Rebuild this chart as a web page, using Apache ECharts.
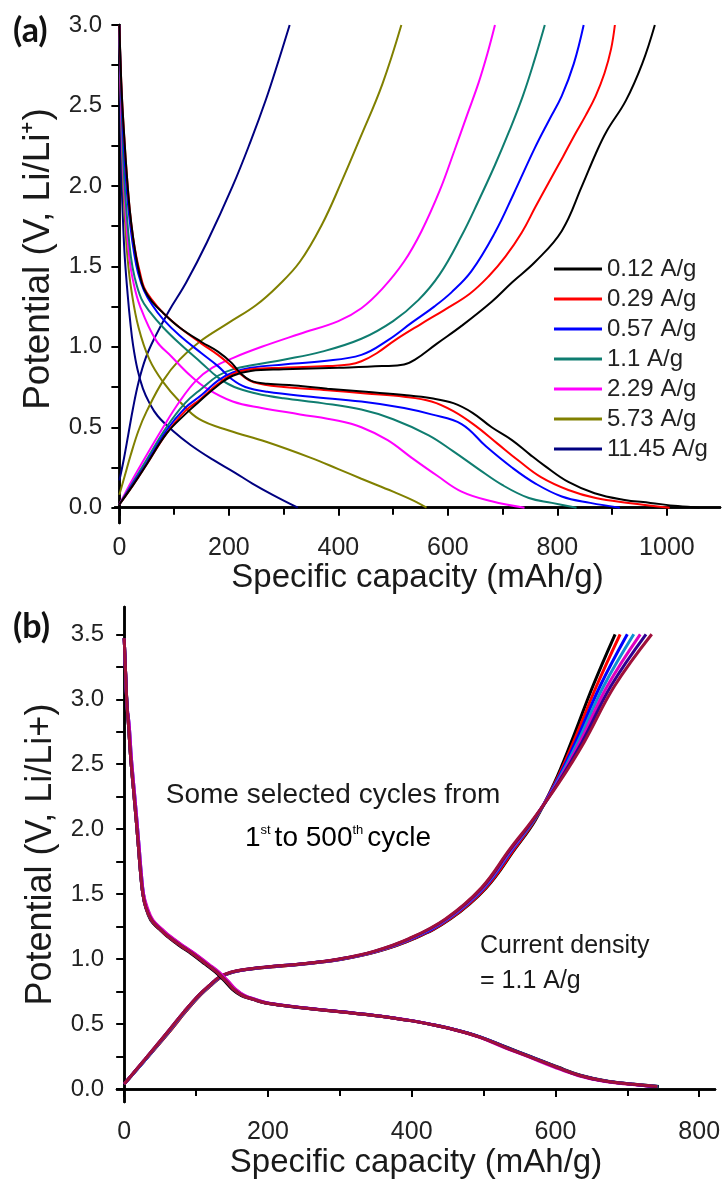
<!DOCTYPE html>
<html>
<head>
<meta charset="utf-8">
<script src="https://cdn.jsdelivr.net/npm/echarts@6/dist/echarts.min.js"></script>
<style>html,body{margin:0;padding:0;background:#fff;}#c{width:725px;height:1180px;}</style>
</head>
<body>
<div id="c"></div>
<script>
// ---------- Panel (a): rate capability, [capacity mAh/g, potential V] ----------
const rateNames = ['0.12 A/g','0.29 A/g','0.57 A/g','1.1 A/g','2.29 A/g','5.73 A/g','11.45 A/g'];
const rateColors = ['#000000','#ff0000','#0000ff','#0f7d70','#ff00ff','#808000','#000080'];

const dis012 = [[0,3.0],[4,2.6],[9,2.3],[14,2.05],[19,1.85],[25,1.68],[31,1.55],[37,1.45],[45,1.36],[60,1.28],[80,1.21],[110,1.12],[150,1.03],[180,0.97],[205,0.9],[220,0.84],[240,0.79],[270,0.77],[320,0.76],[380,0.74],[450,0.72],[520,0.7],[570,0.68],[610,0.65],[645,0.59],[680,0.5],[717,0.42],[750,0.33],[777,0.26],[820,0.16],[868,0.09],[920,0.05],[970,0.03],[1020,0.01],[1060,0.0]];
const dis029 = [[0,3.0],[4,2.6],[9,2.3],[14,2.05],[19,1.85],[25,1.68],[31,1.56],[37,1.47],[45,1.37],[60,1.29],[80,1.21],[110,1.12],[150,1.02],[180,0.95],[205,0.88],[225,0.82],[245,0.78],[300,0.75],[380,0.73],[450,0.71],[520,0.69],[570,0.66],[610,0.6],[650,0.51],[690,0.4],[730,0.29],[770,0.19],[820,0.11],[870,0.06],[930,0.03],[1005,0.0]];
const dis057 = [[0,3.0],[4,2.55],[9,2.2],[14,1.95],[20,1.75],[27,1.58],[34,1.46],[45,1.35],[60,1.26],[80,1.17],[110,1.07],[150,0.96],[180,0.88],[205,0.8],[230,0.75],[270,0.72],[350,0.69],[442,0.66],[520,0.62],[570,0.58],[625,0.52],[670,0.38],[717,0.25],[760,0.15],[808,0.07],[860,0.03],[914,0.0]];
const dis11 = [[0,3.0],[4,2.5],[8,2.1],[14,1.8],[21,1.56],[28,1.43],[40,1.3],[55,1.22],[80,1.12],[110,1.02],[150,0.9],[180,0.81],[210,0.75],[250,0.71],[300,0.68],[370,0.65],[442,0.61],[500,0.55],[565,0.45],[610,0.35],[656,0.24],[700,0.14],[748,0.06],[790,0.03],[835,0.0]];
const dis229 = [[0,3.0],[3,2.5],[7,2.1],[12,1.8],[18,1.56],[25,1.41],[38,1.25],[67,1.04],[95,0.94],[130,0.82],[160,0.74],[207,0.66],[260,0.62],[330,0.58],[400,0.54],[442,0.5],[490,0.42],[534,0.31],[580,0.2],[625,0.1],[680,0.04],[740,0.0]];
const dis573 = [[0,3.0],[3,2.5],[6,2.1],[10,1.8],[15,1.55],[22,1.35],[35,1.12],[55,0.92],[80,0.78],[110,0.66],[146,0.55],[200,0.48],[268,0.41],[350,0.31],[400,0.24],[442,0.18],[500,0.1],[540,0.04],[561,0.0]];
const dis1145 = [[0,3.0],[2,2.5],[4,2.05],[7,1.75],[10,1.55],[15,1.33],[20,1.15],[25,1.01],[33,0.86],[43,0.74],[55,0.65],[70,0.57],[97,0.48],[130,0.39],[170,0.3],[210,0.22],[243,0.15],[280,0.08],[326,0.0]];

const chg012 = [[0,0.02],[25,0.14],[50,0.27],[86,0.46],[120,0.58],[146,0.66],[180,0.76],[207,0.82],[240,0.85],[300,0.86],[400,0.87],[480,0.88],[520,0.89],[540,0.92],[580,1.02],[625,1.13],[680,1.28],[717,1.4],[760,1.53],[808,1.72],[845,2.0],[870,2.2],[890,2.34],[925,2.53],[955,2.76],[978,3.0]];
const chg029 = [[0,0.02],[25,0.14],[50,0.27],[86,0.46],[120,0.6],[146,0.67],[180,0.77],[207,0.83],[240,0.86],[300,0.87],[380,0.88],[420,0.89],[442,0.91],[470,0.96],[503,1.04],[550,1.14],[594,1.23],[640,1.33],[675,1.44],[705,1.56],[735,1.71],[760,1.87],[784,2.02],[810,2.18],[832,2.32],[852,2.44],[870,2.56],[886,2.7],[898,2.85],[905,3.0]];
const chg057 = [[0,0.02],[25,0.15],[50,0.28],[86,0.48],[120,0.62],[150,0.7],[180,0.79],[207,0.84],[240,0.87],[300,0.89],[370,0.91],[442,0.95],[490,1.04],[534,1.15],[575,1.25],[607,1.34],[643,1.47],[686,1.71],[720,1.95],[758,2.23],[785,2.41],[808,2.56],[830,2.76],[848,3.0]];
const chg11 = [[0,0.02],[25,0.16],[50,0.3],[86,0.5],[120,0.65],[150,0.74],[180,0.82],[207,0.86],[250,0.89],[300,0.92],[370,0.97],[442,1.05],[500,1.16],[546,1.29],[585,1.45],[625,1.69],[655,1.9],[686,2.13],[712,2.34],[737,2.56],[758,2.78],[777,3.0]];
const chg229 = [[0,0.02],[20,0.15],[40,0.27],[80,0.5],[110,0.66],[140,0.79],[170,0.87],[207,0.93],[260,1.0],[329,1.08],[400,1.16],[442,1.24],[480,1.36],[520,1.53],[552,1.72],[585,1.97],[612,2.22],[635,2.44],[656,2.64],[672,2.82],[686,3.0]];
const chg573 = [[0,0.08],[10,0.2],[20,0.32],[35,0.48],[50,0.6],[80,0.79],[110,0.92],[146,1.03],[200,1.15],[250,1.26],[290,1.38],[330,1.53],[370,1.76],[405,2.02],[440,2.3],[480,2.63],[515,3.0]];
const chg1145 = [[0,0.17],[8,0.3],[16,0.45],[25,0.62],[35,0.78],[48,0.93],[65,1.06],[90,1.22],[122,1.4],[160,1.65],[207,2.0],[240,2.28],[268,2.54],[290,2.77],[311,3.0]];

const rateDischarge = [dis012, dis029, dis057, dis11, dis229, dis573, dis1145];
const rateCharge = [chg012, chg029, chg057, chg11, chg229, chg573, chg1145];

// ---------- Panel (b): selected cycles at 1.1 A/g ----------
const cycleColors = ['#000000','#ff0000','#0000ff','#1090d0','#e000c0','#300090','#a0103a'];
const chargeV = [0.04,0.23,0.43,0.6,0.73,0.8,0.86,0.9,0.925,0.94,0.965,1.0,1.06,1.16,1.31,1.55,1.85,2.07,2.35,2.67,3.1,3.5];
const chargeCap = [
  [0,30,61,86,107,121,134,152,177,203,253,303,353,404,454,504,544,572,598,622,652,683],
  [0,30,61,86,107,121,134,151,176,202,252,302,352,403,453,503,543,571,599,625,657,690],
  [0,30,60,85,106,120,133,150,175,200,250,300,350,401,451,501,541,570,600,628,662,700],
  [0,30,60,85,106,120,133,150,175,200,250,300,350,400,450,500,540,570,601,631,667,709],
  [0,29,59,84,105,119,132,149,174,199,249,299,349,399,449,499,539,569,602,634,672,718],
  [0,29,59,84,105,119,132,149,174,198,248,298,348,398,448,498,538,569,603,637,677,726],
  [0,29,59,84,105,119,132,148,173,198,248,297,347,397,447,497,537,568,604,640,682,734]
];
const dischargeV = [3.47,3.2,2.95,2.8,2.55,2.3,2.05,1.85,1.65,1.5,1.4,1.3,1.23,1.18,1.1,1.04,0.96,0.9,0.83,0.77,0.72,0.69,0.66,0.625,0.595,0.565,0.525,0.5,0.455,0.4,0.32,0.25,0.17,0.105,0.06,0.04,0.02];
const dischargeCap = [
  [0,2,4,6,9,13,17,20,23,26,30,37,49,59,78,94,113,127,140,150,163,179,198,249,300,351,401,425,462,496,533,566,603,636,673,706,744],
  [0,2,4,6,9,13,17,20,23,26,30,38,50,60,80,96,115,129,142,152,165,180,199,250,300,350,400,424,460,494,530,563,600,633,670,702,740],
  [0,2,4,7,10,14,18,21,24,27,31,39,52,62,82,98,117,131,144,154,167,182,201,252,302,352,402,426,462,496,532,565,601,634,671,703,741],
  [0,2,4,6,9,13,17,20,23,26,30,38,51,61,81,97,116,130,143,153,166,181,200,251,301,351,401,425,461,495,531,564,601,634,671,704,743],
  [0,2,4,7,10,14,18,21,24,27,32,40,53,63,83,99,118,132,145,155,168,183,202,253,303,353,402,426,461,494,529,562,598,631,667,699,736],
  [0,2,4,6,9,13,17,20,23,26,30,38,50,60,80,96,115,129,142,152,165,180,199,250,301,351,401,425,461,495,531,564,601,634,671,703,742],
  [0,2,4,6,9,13,17,20,23,26,30,38,50,60,80,96,115,129,142,152,165,180,199,250,300,351,401,425,461,495,531,564,601,634,671,704,742]
];

// ---------- Tick labels ----------
const xTicksA = [0,200,400,600,800,1000];
const xMinorA = [100,300,500,700,900];
const xTopA = [0,100,200,300,400,500,600,700,800,900,1000];
const yTicksA = [0.0,0.5,1.0,1.5,2.0,2.5,3.0];
const yMinorA = [0.25,0.75,1.25,1.75,2.25,2.75];
const yRightA = [0,0.25,0.5,0.75,1,1.25,1.5,1.75,2,2.25,2.5,2.75,3];
const xTicksB = [0,200,400,600,800];
const xMinorB = [100,300,500,700];
const xTopB = [0,100,200,300,400,500,600,700,800];
const yTicksB = [0.0,0.5,1.0,1.5,2.0,2.5,3.0,3.5];
const yMinorB = [0.25,0.75,1.25,1.75,2.25,2.75,3.25];
const yRightB = [0,0.25,0.5,0.75,1,1.25,1.5,1.75,2,2.25,2.5,2.75,3,3.25,3.5];

const FONT = "'Liberation Sans', Arial, sans-serif";
const LINE = {color:'#000', width:2.5};

function xAxes(grid, min, max, major, minor, top, labelMargin, nameGap) {
  return [
    {type:'value', gridIndex:grid, position:'bottom', min:min, max:max,
     name:'Specific capacity (mAh/g)', nameLocation:'middle', nameGap:nameGap,
     nameTextStyle:{fontSize:33, color:'#1a1a1a', fontFamily:FONT},
     axisLine:{show:true, lineStyle:LINE},
     axisTick:{show:true, customValues:major, length:8, lineStyle:{color:'#000', width:2}},
     axisLabel:{customValues:major, fontSize:25, color:'#222', fontFamily:FONT, margin:labelMargin,
       formatter:v=>String(v)},
     splitLine:{show:false}},
    {type:'value', gridIndex:grid, position:'bottom', min:min, max:max,
     axisLine:{show:false}, axisLabel:{show:false}, splitLine:{show:false},
     axisTick:{show:true, customValues:minor, length:5, lineStyle:{color:'#000', width:2}}},
    {type:'value', gridIndex:grid, position:'top', min:min, max:max,
     axisLine:{show:true, lineStyle:LINE}, axisLabel:{show:false}, splitLine:{show:false},
     axisTick:{show:true, inside:true, customValues:top, length:7, lineStyle:{color:'#000', width:2}}}
  ];
}
function yAxes(grid, min, max, major, minor, right, name, nameSize, namePad) {
  return [
    {type:'value', gridIndex:grid, position:'left', min:min, max:max,
     name:name, nameLocation:'middle', nameGap:58, nameRotate:90,
     nameTextStyle:{fontSize:nameSize, color:'#1a1a1a', fontFamily:FONT, padding:namePad},
     axisLine:{show:true, lineStyle:LINE},
     axisTick:{show:true, customValues:major, length:8, lineStyle:{color:'#000', width:2}},
     axisLabel:{customValues:major, fontSize:24, color:'#222', fontFamily:FONT, margin:13,
       formatter:v=>v.toFixed(1)},
     splitLine:{show:false}},
    {type:'value', gridIndex:grid, position:'left', min:min, max:max,
     axisLine:{show:false}, axisLabel:{show:false}, splitLine:{show:false},
     axisTick:{show:true, customValues:minor, length:5, lineStyle:{color:'#000', width:2}}},
    {type:'value', gridIndex:grid, position:'right', min:min, max:max,
     axisLine:{show:true, lineStyle:LINE}, axisLabel:{show:false}, splitLine:{show:false},
     axisTick:{show:true, inside:true, customValues:right, length:8, lineStyle:{color:'#000', width:2}}}
  ];
}

const series = [];
rateNames.forEach((n,i)=>{
  series.push({name:n, type:'line', xAxisIndex:0, yAxisIndex:0, data:rateDischarge[i], symbol:'none', smooth:0.4,
    lineStyle:{color:rateColors[i], width:2}, itemStyle:{color:rateColors[i]}, z:10-i});
  series.push({name:n, type:'line', xAxisIndex:0, yAxisIndex:0, data:rateCharge[i], symbol:'none', smooth:0.4,
    lineStyle:{color:rateColors[i], width:2}, itemStyle:{color:rateColors[i]}, z:10-i});
});
chargeCap.forEach((caps,i)=>{
  series.push({name:'cycle '+(i+1)+' charge', type:'line', xAxisIndex:3, yAxisIndex:3,
    data:caps.map((c,k)=>[c, chargeV[k]]), symbol:'none', smooth:0.4,
    lineStyle:{color:cycleColors[i], width:3}});
});
dischargeCap.forEach((caps,i)=>{
  series.push({name:'cycle '+(i+1)+' discharge', type:'line', xAxisIndex:3, yAxisIndex:3,
    data:caps.map((c,k)=>[c, dischargeV[k]]), symbol:'none', smooth:0.4,
    lineStyle:{color:cycleColors[i], width:3}});
});

const option = {
  backgroundColor:'#fff',
  animation:false,
  textStyle:{fontFamily:FONT},
  grid:[
    {left:115, top:25, width:605, height:498},
    {left:117, top:607, width:598, height:498}
  ],
  xAxis:[...xAxes(0,-8,1097,xTicksA,xMinorA,xTopA,13,30), ...xAxes(1,-10,822,xTicksB,xMinorB,xTopB,18,38)],
  yAxis:[...yAxes(0,-0.095,3.0,yTicksA,yMinorA,yRightA,'Potential (V, Li/Li\u207A)',37,[0,0,0,30]),
         ...yAxes(1,-0.1,3.71,yTicksB,yMinorB,yRightB,'Potential (V, Li/Li+)',36,[0,0,0,0])],
  legend:{data:rateNames, orient:'vertical', left:549, top:252, itemWidth:48, itemHeight:3, itemGap:6,
    icon:'rect', textStyle:{fontSize:24, color:'#222', fontFamily:FONT}, selectedMode:false},
  graphic:[
    {type:'text', left:13, top:14, style:{text:'(a)', font:"bold 34px Lato, 'Open Sans', sans-serif", fill:'#111'}},
    {type:'text', left:13, top:610, style:{text:'(b)', font:"bold 34px Lato, 'Open Sans', sans-serif", fill:'#111'}},
    {type:'text', x:333, y:795, style:{text:'Some selected cycles from', font:"28px 'Liberation Sans', Arial, sans-serif",
      fill:'#1a1a1a', textAlign:'center', textVerticalAlign:'middle'}},
    {type:'text', x:338, y:838, style:{text:'{n|1}{s|st}{n|to 500}{s|th}{n|cycle}', textAlign:'center', textVerticalAlign:'middle',
      rich:{n:{fontSize:28, fontFamily:FONT, color:'#1a1a1a'},
            s:{fontSize:13, fontFamily:FONT, color:'#1a1a1a', verticalAlign:'top', padding:[0,4,14,0]}}}},
    {type:'text', left:480, top:934, style:{text:'Current density', font:"25px 'Liberation Sans', Arial, sans-serif", fill:'#1a1a1a'}},
    {type:'text', left:480, top:969, style:{text:'= 1.1 A/g', font:"25px 'Liberation Sans', Arial, sans-serif", fill:'#1a1a1a'}}
  ],
  series:series
};
const chart = echarts.init(document.getElementById('c'), null, {renderer:'canvas'});
chart.setOption(option);
</script>
</body>
</html>
